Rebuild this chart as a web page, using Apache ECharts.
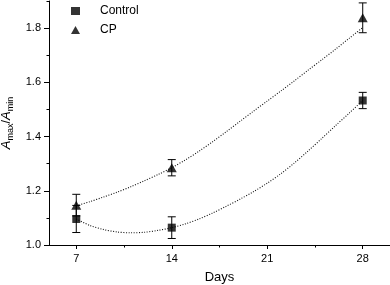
<!DOCTYPE html>
<html>
<head>
<meta charset="utf-8">
<script src="https://cdn.jsdelivr.net/npm/echarts@6/dist/echarts.min.js"></script>
<style>
  html, body { margin: 0; padding: 0; background: #fff; }
  #chart { width: 390px; height: 285px; }
</style>
</head>
<body>
<div id="chart"></div>
<script>
// measured points (mean, error)
const days = [7, 14, 28];
const controlMean = [1.096, 1.064, 1.533];
const controlErr = [0.05, 0.04, 0.03];
const cpMean = [1.147, 1.285, 1.838];
const cpErr = [0.04, 0.03, 0.055];

// dotted fit curves
const fitDays = [7, 8, 9, 10, 11, 12, 13, 14, 15, 16, 17, 18, 19, 20, 21, 22, 23, 24, 25, 26, 27, 28];
const controlFitVals = [1.096, 1.072, 1.057, 1.048, 1.045, 1.047, 1.054, 1.064, 1.078, 1.096, 1.118, 1.143, 1.169, 1.197, 1.228, 1.263, 1.303, 1.347, 1.393, 1.44, 1.486, 1.533];
const cpFitVals = [1.145, 1.16, 1.177, 1.195, 1.215, 1.237, 1.26, 1.285, 1.314, 1.346, 1.381, 1.418, 1.456, 1.494, 1.531, 1.568, 1.606, 1.645, 1.683, 1.722, 1.762, 1.802];

// axis ticks
const xTicks = [7, 14, 21, 28];
const xMinorTicks = [10.5, 17.5, 24.5];
const yTicks = [1.0, 1.2, 1.4, 1.6, 1.8];
const yMinorTicks = [1.1, 1.3, 1.5, 1.7, 1.9];

const font = 'Liberation Sans';
const chart = echarts.init(document.getElementById('chart'));

function pairs(xs, ys) {
  return xs.map((x, i) => [x, ys[i]]);
}
function triples(xs, ys, es) {
  return xs.map((x, i) => [x, ys[i], es[i]]);
}

function renderErrorBar(params, api) {
  const x = api.value(0);
  const m = api.value(1);
  const e = api.value(2);
  const top = api.coord([x, m + e]);
  const bot = api.coord([x, m - e]);
  const hw = 4;
  const style = { stroke: '#000', lineWidth: 1 };
  return {
    type: 'group',
    children: [
      { type: 'line', shape: { x1: top[0], y1: top[1], x2: bot[0], y2: bot[1] }, style: style },
      { type: 'line', shape: { x1: top[0] - hw, y1: top[1], x2: top[0] + hw, y2: top[1] }, style: style },
      { type: 'line', shape: { x1: bot[0] - hw, y1: bot[1], x2: bot[0] + hw, y2: bot[1] }, style: style }
    ]
  };
}

const fitLine = { color: '#111', width: 1.1, type: [1, 1.6] };

const option = {
  animation: false,
  textStyle: { fontFamily: font, color: '#000' },
  grid: { left: 49, right: 0, top: 1, bottom: 40, outerBoundsMode: 'none', containLabel: false },
  legend: {
    data: ['Control', 'CP'],
    orient: 'vertical',
    left: 71,
    top: 5,
    padding: 0,
    itemGap: 7,
    itemWidth: 9,
    itemHeight: 8,
    textStyle: { fontFamily: font, fontSize: 12, color: '#000', padding: [0, 0, 0, 15] }
  },
  xAxis: [{
    type: 'value',
    min: 5,
    max: 30,
    name: 'Days',
    nameLocation: 'middle',
    nameGap: 26,
    nameTextStyle: { fontFamily: font, fontSize: 13, color: '#000' },
    axisLine: { lineStyle: { color: '#000', width: 1 } },
    axisTick: { show: true, customValues: xTicks, length: 4, lineStyle: { color: '#000' } },
    axisLabel: { customValues: xTicks, fontFamily: font, fontSize: 11, color: '#000', margin: 8 },
    splitLine: { show: false }
  }, {
    type: 'value',
    min: 5,
    max: 30,
    position: 'bottom',
    axisLine: { show: false },
    axisTick: { show: true, customValues: xMinorTicks, length: 2.5, lineStyle: { color: '#000' } },
    axisLabel: { show: false },
    splitLine: { show: false }
  }],
  yAxis: [{
    type: 'value',
    min: 1.0,
    max: 1.9,
    name: '{a|A}{s|max}{b|/}{a|A}{s|min}',
    nameLocation: 'middle',
    nameGap: 33,
    nameRotate: 90,
    nameTextStyle: {
      fontFamily: font,
      color: '#000',
      rich: {
        a: { fontFamily: font, fontSize: 13, fontStyle: 'italic', color: '#000', lineHeight: 16, verticalAlign: 'middle' },
        b: { fontFamily: font, fontSize: 13, color: '#000', lineHeight: 16, verticalAlign: 'middle' },
        s: { fontFamily: font, fontSize: 9, color: '#000', lineHeight: 16, verticalAlign: 'bottom' }
      }
    },
    axisLine: { show: true, lineStyle: { color: '#000', width: 1 } },
    axisTick: { show: true, customValues: yTicks, length: 5, lineStyle: { color: '#000' } },
    axisLabel: {
      customValues: yTicks,
      fontFamily: font,
      fontSize: 11,
      color: '#000',
      margin: 8,
      formatter: v => v.toFixed(1)
    },
    splitLine: { show: false }
  }, {
    type: 'value',
    min: 1.0,
    max: 1.9,
    position: 'left',
    axisLine: { show: false },
    axisTick: { show: true, customValues: yMinorTicks, length: 2.5, lineStyle: { color: '#000' } },
    axisLabel: { show: false },
    splitLine: { show: false }
  }],
  series: [
    {
      name: 'Control fit',
      type: 'line',
      data: pairs(fitDays, controlFitVals),
      smooth: 0.3,
      showSymbol: false,
      lineStyle: fitLine,
      z: 1
    },
    {
      name: 'CP fit',
      type: 'line',
      data: pairs(fitDays, cpFitVals),
      smooth: 0.3,
      showSymbol: false,
      lineStyle: fitLine,
      z: 1
    },
    {
      name: 'Control err',
      type: 'custom',
      renderItem: renderErrorBar,
      data: triples(days, controlMean, controlErr),
      z: 2
    },
    {
      name: 'CP err',
      type: 'custom',
      renderItem: renderErrorBar,
      data: triples(days, cpMean, cpErr),
      z: 2
    },
    {
      name: 'Control',
      type: 'scatter',
      symbol: 'rect',
      symbolSize: 8,
      itemStyle: { color: '#000' },
      data: pairs(days, controlMean),
      z: 3
    },
    {
      name: 'CP',
      type: 'scatter',
      symbol: 'triangle',
      symbolSize: [10, 9],
      itemStyle: { color: '#000' },
      data: pairs(days, cpMean),
      z: 3
    }
  ]
};

chart.setOption(option);
</script>
</body>
</html>
